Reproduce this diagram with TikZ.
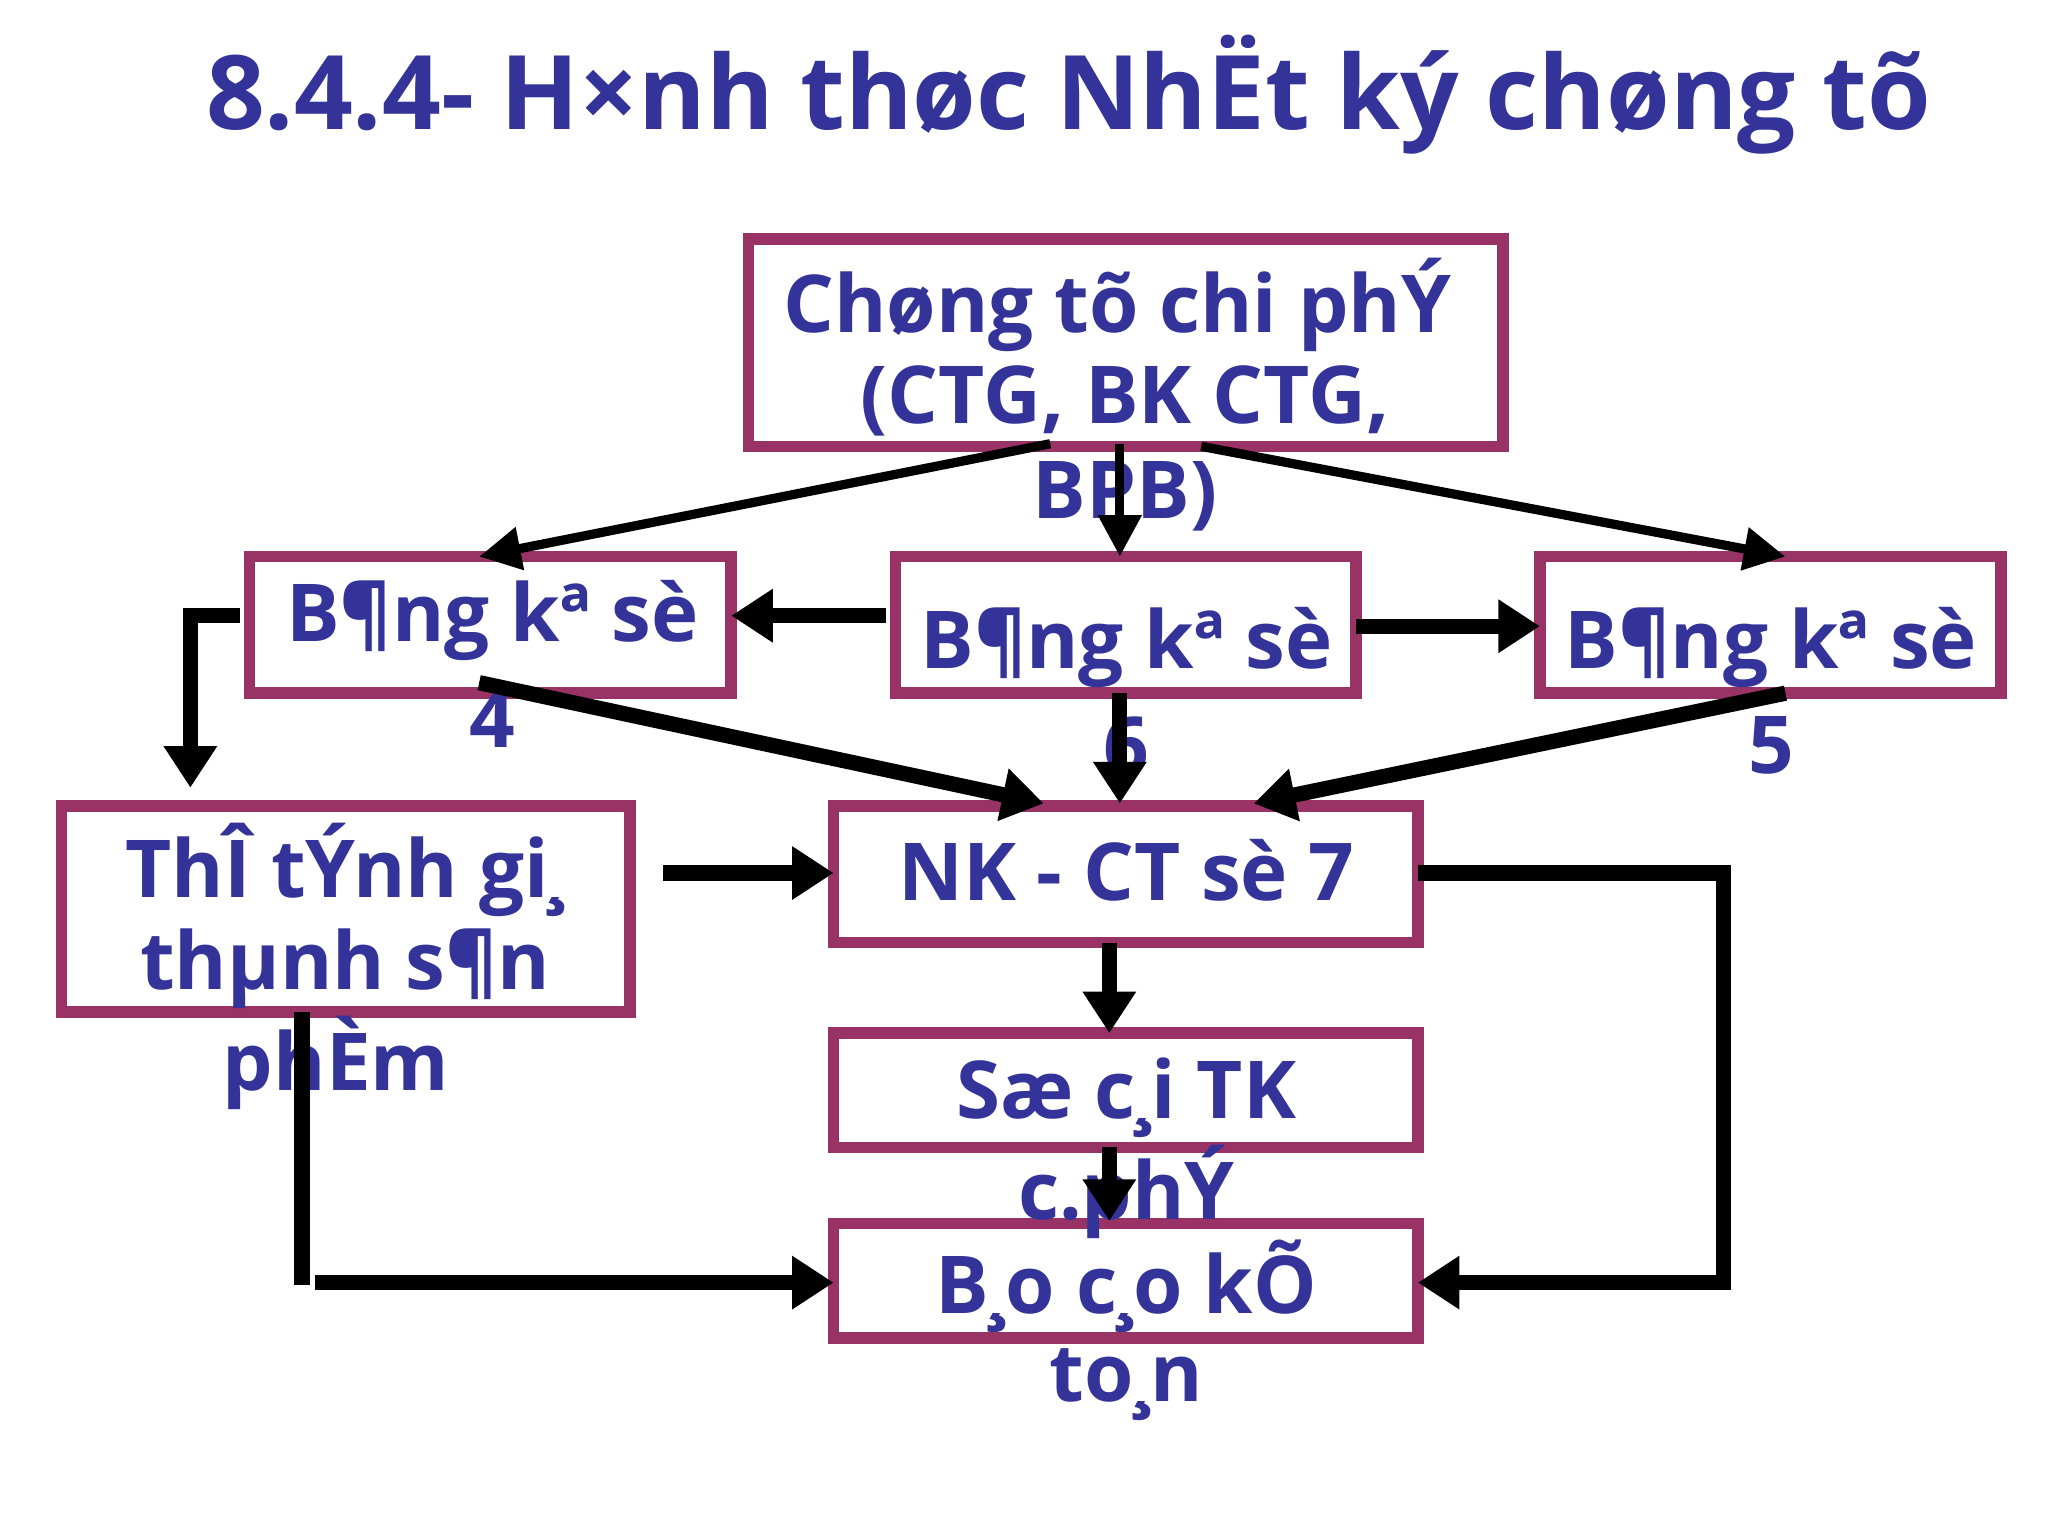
\documentclass[tikz,border=0pt]{standalone}
\usepackage{fontspec}
\setmainfont{Open Sans}
\usetikzlibrary{arrows.meta}
\definecolor{tblue}{RGB}{51,51,153}
\definecolor{bred}{RGB}{153,51,102}
\tikzset{
 bx/.style={draw=bred,line width=2.5pt},
 tx/.style={text=tblue,font=\bfseries\fontsize{17.3}{21}\selectfont,align=center,inner sep=0pt},
 thin/.style={line width=2pt,-{Triangle[length=9pt,width=9pt]}},
 thick/.style={line width=3.3pt,-{Triangle[length=9pt,width=11pt]}},
 thickn/.style={line width=3.3pt}
}
\begin{document}
\begin{tikzpicture}[x=0.01cm,y=-0.01cm]
\useasboundingbox (0,0) rectangle (1560,1170);
\node[text=tblue,font=\bfseries\fontsize{22.3}{26}\selectfont] (title) at (814,72) {8.4.4- H×nh thøc NhËt ký chøng tõ};
% boxes
\draw[bx] (570,182) rectangle (1145,340); \coordinate (top) at (857,261);
\draw[bx] (190,424) rectangle (557,528);
\draw[bx] (682,424) rectangle (1033,528);
\draw[bx] (1173,424) rectangle (1524,528);
\draw[bx] (47,614) rectangle (480,771);
\draw[bx] (635,614) rectangle (1080,718);
\draw[bx] (635,787) rectangle (1080,874);
\draw[bx] (635,932) rectangle (1080,1019);
% texts
\node[tx] (t1) at (851,232) {Chøng tõ chi phÝ};
\node[tx] (t2) at (857,305) {(CTG, BK CTG,};
\node[tx] (t3) at (857,378) {BPB)};
\node[tx] (b4) at (375,473) {B¶ng kª sè};
\node[tx] (b4n) at (375,548) {4};
\node[tx] (b6) at (858,493) {B¶ng kª sè};
\node[tx] (b6n) at (858,568) {6};
\node[tx] (b5) at (1349,493) {B¶ng kª sè};
\node[tx] (b5n) at (1349,568) {5};
\node[tx] (th1) at (263,663) {ThÎ tÝnh gi¸};
\node[tx] (th2) at (263,738) {thµnh s¶n};
\node[tx] (th3) at (256,810) {phÈm};
\node[tx] (nk) at (858,663) {NK - CT sè 7};
\node[tx] (sc1) at (858,836) {Sæ c¸i TK};
\node[tx] (sc2) at (858,908) {c.phÝ};
\node[tx] (bc1) at (858,980) {B¸o c¸o kÕ};
\node[tx] (bc2) at (858,1055) {to¸n};
% coordinates
\coordinate (a1) at (800,338); \coordinate (a1e) at (365,424);
\coordinate (a2) at (853,338); \coordinate (a2e) at (853,424);
\coordinate (a3) at (915,340); \coordinate (a3e) at (1360,424);
\coordinate (c1) at (675,469); \coordinate (c1e) at (557,469);
\coordinate (c2) at (1033,477); \coordinate (c2e) at (1173,477);
\coordinate (d1) at (183,469); \coordinate (d1m) at (145,469); \coordinate (d1e) at (145,600);
\coordinate (e1) at (365,520); \coordinate (e1e) at (795,612);
\coordinate (e2) at (853,528); \coordinate (e2e) at (853,612);
\coordinate (e3) at (1360,528); \coordinate (e3e) at (955,612);
\coordinate (f1) at (505,665); \coordinate (f1e) at (635,665);
\coordinate (g1) at (1080,665); \coordinate (g1m) at (1313,665); \coordinate (g1n) at (1313,977); \coordinate (g1e) at (1080,977);
\coordinate (h1) at (845,718); \coordinate (h1e) at (845,787);
\coordinate (h2) at (845,874); \coordinate (h2e) at (845,930);
\coordinate (k1) at (230,771); \coordinate (k1e) at (230,979);
\coordinate (k2) at (240,977); \coordinate (k2e) at (635,977);
% arrows
\draw[thin] (a1) -- (a1e);
\draw[thin] (a2) -- (a2e);
\draw[thin] (a3) -- (a3e);
\draw[thick] (c1) -- (c1e);
\draw[thick] (c2) -- (c2e);
\draw[thick] (d1) -- (d1m) -- (d1e);
\draw[thick] (e1) -- (e1e);
\draw[thick] (e2) -- (e2e);
\draw[thick] (e3) -- (e3e);
\draw[thick] (f1) -- (f1e);
\draw[thick] (g1) -- (g1m) -- (g1n) -- (g1e);
\draw[thick] (h1) -- (h1e);
\draw[thick] (h2) -- (h2e);
\draw[thickn] (k1) -- (k1e);
\draw[thick] (k2) -- (k2e);
\end{tikzpicture}
\end{document}
